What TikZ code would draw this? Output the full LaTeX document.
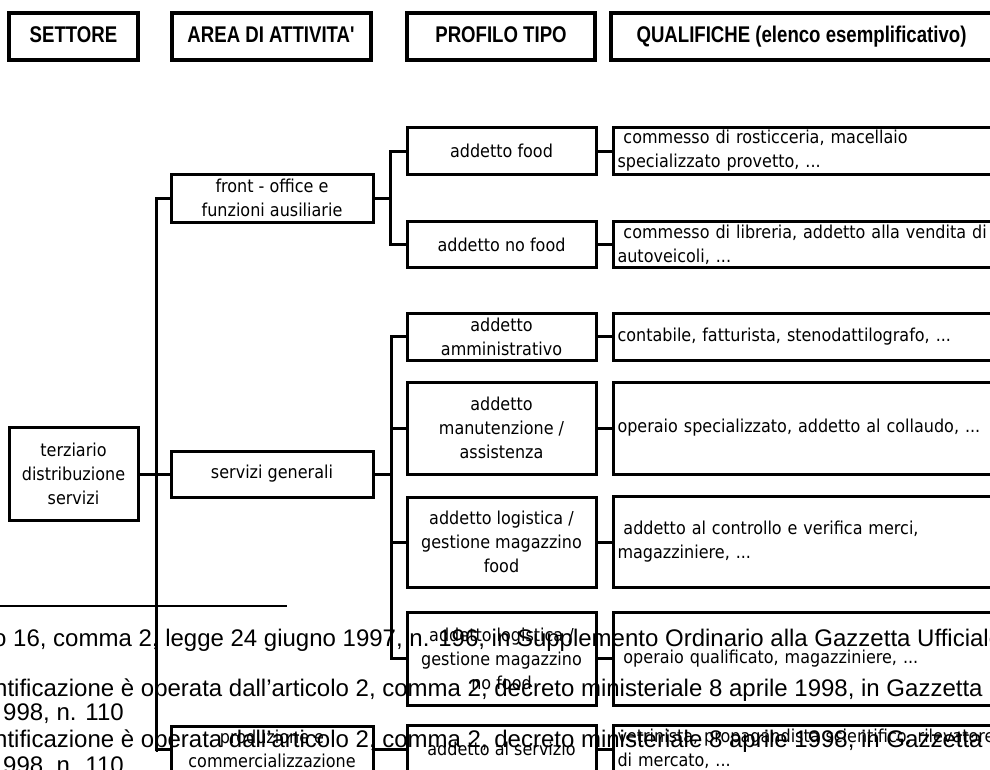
\documentclass[tikz,border=0pt]{standalone}
\usepackage{fontspec}
\usepackage{tikz}
\usetikzlibrary{positioning}
\newfontfamily\boxfont[FakeStretch=0.9]{DejaVu Sans}
\newfontfamily\hdrfont[FakeStretch=0.82]{Liberation Sans}
\newfontfamily\notefont{Liberation Sans}
\tikzset{hdr/.style = {draw, line width = 3.4, inner sep = 0, minimum height = 47,
                       text height = 16, text depth = 4,
                       font = \hdrfont\fontsize{22.7}{24}\selectfont\bfseries}}
\tikzset{box/.style = {draw, line width = 3, inner sep = 0, align = center,
                       font = \boxfont\fontsize{17.8}{24}\selectfont}}
\tikzset{pbox/.style = {box, minimum width = 189}}
\tikzset{qbox/.style = {box, anchor = west, align = left, text width = 390, inner xsep = 4}}
\tikzset{link/.style = {line width = 3}}
\tikzset{note/.style = {anchor = base west, inner sep = 0,
                        font = \notefont\fontsize{24}{24}\selectfont}}

\begin{document}
\begin{tikzpicture}[x = 1pt, y = -1pt]
    \path [use as bounding box] (0, 0) rectangle (990, 769);
    \clip (0, 0) rectangle (990, 769);

    \node [hdr, minimum width = 129] (hset) at (73.5, 36.5) {SETTORE};
    \node [hdr, minimum width = 199] (harea) at (271.5, 36.5) {AREA DI ATTIVITA\textquotesingle};
    \node [hdr, minimum width = 188] (hprof) at (501, 36.5) {PROFILO TIPO};
    \node [hdr, minimum width = 381] (hqual) at (801.5, 36.5) {QUALIFICHE (elenco esemplificativo)};

    \node [box, minimum width = 129, minimum height = 93] (ter) at (73.5, 474) {terziario\\distribuzione\\servizi};

    \node [box, minimum width = 202, minimum height = 48] (fo) at (272, 198) {front - office e\\funzioni ausiliarie};
    \node [box, minimum width = 202, minimum height = 46] (sg) at (272, 474) {servizi generali};
    \node [box, minimum width = 202, minimum height = 46] (pc) at (272, 749) {produzione e\\commercializzazione};

    \node [pbox, minimum height = 47] (food) at (501.5, 151) {addetto food};
    \node [pbox, minimum height = 46] (nofood) at (501.5, 244.5) {addetto no food};
    \node [pbox, minimum height = 47] (amm) at (501.5, 336.5) {addetto\\amministrativo};
    \node [pbox, minimum height = 92] (man) at (501.5, 428) {addetto\\manutenzione /\\assistenza};
    \node [pbox, minimum height = 90] (logf) at (501.5, 542) {addetto logistica /\\gestione magazzino\\food};
    \node [pbox, minimum height = 93] (lognf) at (501.5, 658.5) {addetto logistica /\\gestione magazzino\\no food};
    \node [pbox, minimum height = 48] (serv) at (501.5, 749) {addetto al servizio};

    \node [qbox, minimum height = 47] (qfood) at (612, 151) {\ commesso di rosticceria, macellaio\\specializzato provetto, ...};
    \node [qbox, minimum height = 46] (qnofood) at (612, 244.5) {\ commesso di libreria, addetto alla vendita di\\autoveicoli, ...};
    \node [qbox, minimum height = 47] (qamm) at (612, 336.5) {contabile, fatturista, stenodattilografo, ...};
    \node [qbox, minimum height = 92] (qman) at (612, 428) {operaio specializzato, addetto al collaudo, ...};
    \node [qbox, minimum height = 91] (qlogf) at (612, 542) {\ addetto al controllo e verifica merci,\\magazziniere, ...};
    \node [qbox, minimum height = 93] (qlognf) at (612, 658.5) {\ operaio qualificato, magazziniere, ...};
    \node [qbox, minimum height = 47] (qserv) at (612, 749) {vetrinista, propagandista scientifico, rilevatore\\di mercato, ...};

    \draw [link] (ter.east) -- (sg.west);
    \draw [link] (ter.east) -- ++(17, 0) |- (fo.west);
    \draw [link] (ter.east) -- ++(17, 0) |- (pc.west);

    \draw [link] (fo.east) -- ++(16, 0) |- (food.west);
    \draw [link] (fo.east) -- ++(16, 0) |- (nofood.west);
    \foreach \p in {amm, man, logf, lognf}
        \draw [link] (sg.east) -- ++(17, 0) |- (\p.west);
    \draw [link] (pc.east) -- (serv.west);

    \foreach \p/\q in {food/qfood, nofood/qnofood, amm/qamm, man/qman, logf/qlogf, lognf/qlognf, serv/qserv}
        \draw [link] (\p.east) -- (\q.west);

    \draw [line width = 1.6] (0, 606) -- (287, 606);
    \node [note] (n1) at (-7, 646) {o 16, comma 2, legge 24 giugno 1997, n. 196, in Supplemento Ordinario alla Gazzetta Ufficiale};
    \node [note] (n2) at (-6, 696) {ntificazione è operata dall’articolo 2, comma 2, decreto ministeriale 8 aprile 1998, in Gazzetta};
    \node [note] (n3) at (3, 720) {998, n. 110};
    \node [note] (n4) at (-6, 747) {ntificazione è operata dall’articolo 2, comma 2, decreto ministeriale 8 aprile 1998, in Gazzetta};
    \node [note] (n5) at (3, 773) {998, n. 110};
\end{tikzpicture}
\end{document}
